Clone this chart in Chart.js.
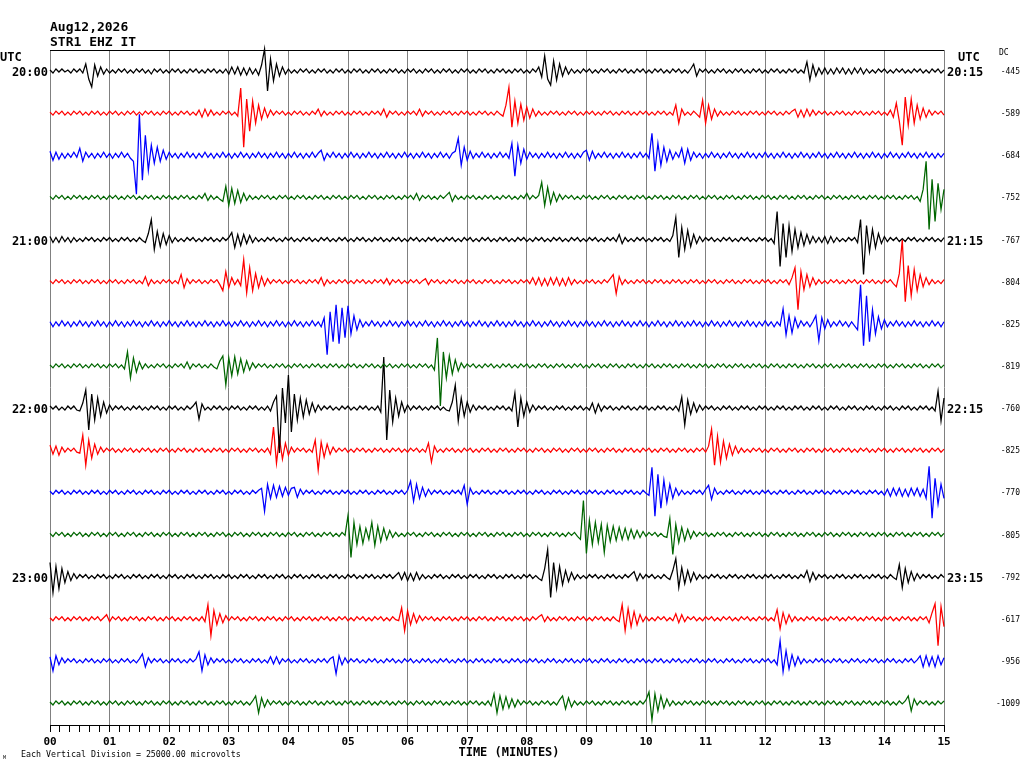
<!DOCTYPE html>
<html>
<head>
<meta charset="utf-8">
<title>STR1 EHZ IT helicorder</title>
<script src="https://cdn.jsdelivr.net/npm/chart.js@4.4.1/dist/chart.umd.min.js"></script>
<style>
  html, body { margin: 0; padding: 0; background: #fff; }
  canvas { display: block; }
</style>
</head>
<body>
<canvas id="heli" width="1024" height="768"></canvas>
<script>
// One array per 15 minute line, one value every 0.05 min (20 per row = 1 minute).
// Amplitudes, positive = up.
const tr2000 = [
  1,-2,2,-1,2,-1,1,-2,2,-1,2,-2,7,-8,-16,6,-5,4,-3,2,
  -2,1,-2,2,-1,2,-2,1,-2,2,-1,2,-2,1,-3,2,-1,2,-2,1,
  -2,2,-1,2,-2,1,-2,2,-1,2,-2,1,-2,2,-1,2,-2,1,-2,2,
  -3,4,-3,4,-4,3,-4,3,-3,2,-4,6,22,-20,12,-10,7,-5,4,-3,
  2,-2,1,-2,2,-1,2,-2,1,-2,2,-1,2,-2,1,-2,2,-1,2,-2,
  1,-2,2,-1,2,-2,1,-2,2,-1,2,-2,1,-2,2,-1,2,-2,1,-2,
  2,-1,2,-2,1,-2,2,-1,2,-2,1,-2,2,-1,2,-2,1,-2,2,-1,
  2,-2,1,-2,2,-1,2,-2,1,-2,2,-1,2,-2,1,-2,2,-1,2,-2,
  1,-2,2,-1,4,-6,15,-8,-14,10,-9,7,-5,4,-3,2,-2,1,-2,2,
  -1,2,-2,1,-2,2,-1,2,-2,1,-2,2,-1,2,-2,1,-2,2,-1,2,
  -2,1,-2,2,-1,2,-2,1,-2,2,-1,2,-2,1,-2,2,7,-5,2,-1,
  2,-2,1,-2,2,-1,2,-2,1,-2,2,-1,2,-2,1,-2,2,-1,2,-2,
  1,-2,2,-1,2,-2,1,-2,2,-1,2,-2,1,-2,9,-9,6,-5,3,-3,
  3,-3,2,-3,3,-2,3,-3,2,-3,3,-2,3,-3,2,-2,1,-2,2,-1,
  2,-2,1,-2,2,-1,2,-2,1,-2,2,-1,2,-2,1,-2,2,-1,2,-2,
  1]
const tr2015 = [
  1,-2,2,-1,2,-2,1,-2,2,-1,2,-2,1,-2,2,-1,2,-2,1,-2,
  2,-1,2,-2,1,-2,2,-1,2,-2,1,-2,2,-1,2,-2,1,-2,2,-1,
  2,-2,1,-2,2,-1,2,-2,1,-2,3,-4,4,-3,3,-2,1,-2,2,-1,
  2,-2,1,-3,25,-34,14,-18,12,-10,8,-6,5,-4,3,-2,2,-1,2,-2,
  1,-2,2,-1,2,-2,1,-2,2,-1,4,-3,2,-2,1,-2,2,-1,2,-2,
  1,-2,2,-1,2,-2,1,-2,2,-1,2,-2,4,-4,2,-1,2,-2,1,-2,
  2,-1,2,-2,4,-3,2,-1,2,-2,1,-2,2,-1,2,-2,1,-2,2,-1,
  2,-2,1,-2,2,-1,2,-2,1,-2,2,-1,-3,8,26,-14,12,-10,9,-7,
  6,-5,4,-3,2,-2,1,-2,2,-1,2,-2,1,-2,2,-1,2,-2,1,-2,
  2,-1,2,-2,1,-2,2,-1,2,-2,1,-2,2,-1,2,-2,1,-2,2,-1,
  2,-2,1,-2,2,-1,2,-2,1,-2,8,-10,4,-2,1,-2,2,-1,-4,13,
  -10,8,-6,4,-3,2,-2,1,-2,2,-1,2,-2,1,-2,2,-1,2,-2,1,
  -2,2,-1,2,-2,1,-2,2,-1,2,4,-4,3,-4,4,-3,3,-2,2,-1,
  2,-2,1,-2,2,-1,2,-2,1,-2,2,-1,2,-2,1,-2,2,-1,2,-2,
  1,-2,3,-4,10,-8,-32,16,-12,14,-10,8,-6,5,-4,3,-2,2,-1,2,
  -2]
const tr2030 = [
  4,-5,3,-4,2,-3,2,-2,3,-2,7,-6,3,-2,2,-3,2,-2,3,-2,
  2,-3,2,-2,3,-2,2,-3,-6,-39,41,-25,20,-15,10,-8,8,-6,5,-4,
  3,-2,2,-3,2,-2,3,-2,2,-3,2,-2,3,-2,2,-3,2,-2,3,-2,
  2,-3,2,-2,3,-2,2,-3,2,-2,3,-2,2,-3,2,-2,3,-2,2,-3,
  2,-2,3,-2,2,-3,2,-2,3,-2,2,5,-5,2,-2,3,-2,2,-3,2,
  -2,3,-2,2,-3,2,-2,3,-2,2,-3,2,-2,3,-2,2,-3,2,-2,3,
  -2,2,-3,2,-2,3,-2,2,-3,2,-2,3,-2,2,-3,2,4,17,-10,8,
  -5,4,-3,2,-2,3,-2,2,-3,2,-2,3,-2,2,-3,12,-21,10,-8,6,
  -4,3,-2,2,-3,2,-2,3,-2,2,-3,2,-2,3,-2,2,-3,2,-2,3,
  5,-5,4,-3,2,-2,3,-2,2,-3,2,-2,3,-2,2,-3,2,-2,3,-2,
  2,-3,22,-16,12,-10,8,-6,5,-4,3,-2,7,-8,6,-5,3,-2,2,-3,
  2,-2,3,-2,2,-3,2,-2,3,-2,2,-3,2,-2,3,-2,2,-3,2,-2,
  3,-2,2,-3,2,-2,3,-2,2,-3,2,-2,3,-2,2,-3,2,-2,3,-2,
  2,-3,2,-2,3,-2,2,-3,2,-2,3,-2,2,-3,2,-2,3,-2,2,-3,
  2,-2,3,-2,2,-3,2,-2,3,-2,2,-3,2,-2,3,-2,2,-3,2,-2,
  2]
const tr2045 = [
  1,-2,2,-1,2,-2,1,-2,2,-1,2,-2,1,-2,2,-1,2,-2,1,-2,
  2,-1,2,-2,1,-2,2,-1,2,-2,1,-2,2,-1,2,-2,1,-2,2,-1,
  2,-2,1,-2,2,-1,2,-2,1,-2,2,-1,4,-3,2,-2,1,-2,-4,11,
  -8,9,-6,7,-5,4,-3,2,-2,1,-2,2,-1,2,-2,1,-2,2,-1,2,
  -2,1,-2,2,-1,2,-2,1,-2,2,-1,2,-2,1,-2,2,-1,2,-2,1,
  -2,2,-1,2,-2,1,-2,2,-1,2,-2,1,-2,2,-1,2,-2,1,-2,2,
  -1,2,-2,4,-3,2,-1,2,-2,1,-2,2,-1,2,5,-4,2,-2,1,-2,
  2,-1,2,-2,1,-2,2,-1,2,-2,1,-2,2,-1,2,-2,1,-2,2,-1,
  4,-2,2,-1,2,15,-8,10,-6,5,-4,3,-2,2,-1,2,-2,1,-2,2,
  -1,2,-2,1,-2,2,-1,2,-2,1,-2,2,-1,2,-2,1,-2,2,-1,2,
  -2,1,-2,2,-1,2,-2,1,-2,2,-1,2,-2,1,-2,2,-1,2,-2,1,
  -2,2,-1,2,-2,1,-2,2,-1,2,-2,1,-2,2,-1,2,-2,1,-2,2,
  -1,2,-2,1,-2,2,-1,2,-2,1,-2,2,-1,2,-2,1,-2,2,-1,2,
  -2,1,-2,2,-1,2,-2,1,-2,2,-1,2,-2,1,-2,2,-1,2,-2,1,
  -2,2,-1,2,-2,1,-2,2,-1,2,-2,1,-4,8,36,-32,18,-24,14,-12,
  8]
const tr2100 = [
  3,-3,2,-3,3,-2,2,-3,2,-2,1,-2,2,-1,2,-2,1,-2,2,-1,
  2,-2,1,-2,2,-1,2,-2,1,-2,2,-1,-3,6,20,-10,8,-7,6,-5,
  4,-3,2,-2,1,-2,2,-1,2,-2,1,-2,2,-1,2,-2,1,-2,2,-1,
  2,7,-8,5,-6,5,-4,4,-3,2,-2,1,-2,2,-1,2,-2,1,-2,2,
  -1,2,-2,1,-2,2,-1,2,-2,1,-2,2,-1,2,-2,1,-2,2,-1,2,
  -2,1,-2,2,-1,2,-2,1,-2,2,-1,2,-2,1,-2,2,-1,2,-2,1,
  -2,2,-1,2,-2,1,-2,2,-1,2,-2,1,-2,2,-1,2,-2,1,-2,2,
  -1,2,-2,1,-2,2,-1,2,-2,1,-2,2,-1,2,-2,1,-2,2,-1,2,
  -2,1,-2,2,-1,2,-2,1,-2,2,-1,2,-2,1,-2,2,-1,2,-2,1,
  -2,2,-1,2,-2,1,-2,2,-1,2,-2,5,-4,2,-2,1,-2,2,-1,2,
  -2,1,-2,2,-1,2,-2,1,-2,4,22,-18,12,-10,9,-7,5,-4,3,-2,
  2,-1,2,-2,1,-2,2,-1,2,-2,1,-2,2,-1,2,-2,1,-2,2,-1,
  2,-2,1,-4,28,-27,16,-18,14,-12,10,-8,7,-6,5,-4,3,-3,2,-3,
  3,-4,3,-3,2,-2,1,-2,2,-1,2,-3,20,-35,14,-12,10,-8,6,-4,
  3,-2,2,-1,2,-2,1,-2,2,-1,2,-2,1,-2,2,-1,2,-2,1,-2,
  2]
const tr2115 = [
  1,-2,2,-1,2,-2,1,-2,2,-1,2,-2,1,-2,2,-1,2,-2,1,-2,
  2,-1,2,-2,1,-2,2,-1,2,-2,1,-2,5,-4,2,-2,1,-2,2,-1,
  2,-2,1,-2,7,-6,3,-2,2,-1,2,-2,1,-2,2,-1,2,-3,-9,10,
  -6,4,-3,2,-4,22,-11,14,-9,8,-6,5,-4,3,-2,2,-1,2,-2,1,
  -2,2,-1,2,-2,1,-2,2,-1,2,-2,4,-4,2,-2,1,-2,2,-1,2,
  -2,1,-2,2,-1,2,-2,1,-2,2,-1,2,-2,3,-3,2,-1,2,-2,1,
  -2,2,-1,2,-2,1,3,-3,2,-1,2,-2,1,-2,2,-1,2,-2,1,-2,
  2,-1,2,-2,1,-2,2,-1,2,-2,1,-2,2,-1,2,-2,1,-2,2,-1,
  2,-2,4,-3,4,-4,3,-4,4,-3,4,-4,3,-4,4,-3,2,-2,1,-2,
  2,-1,2,-2,1,-2,2,-1,3,7,-12,5,-3,2,-2,1,-2,2,-1,2,
  -2,1,-2,2,-1,2,-2,1,-2,2,-1,2,-2,1,-2,2,-1,2,-2,1,
  -2,2,-1,2,-2,1,-2,2,-1,2,-2,1,-2,2,-1,2,-2,1,-2,2,
  -1,2,-2,1,-2,2,-1,2,-3,4,14,-28,10,-8,7,-5,4,-3,2,-2,
  1,-2,2,-1,2,-2,1,-2,2,-1,2,-2,1,-2,2,-1,2,-2,1,-2,
  2,-1,2,-2,-5,8,42,-20,16,-14,12,-9,7,-5,4,-3,2,-2,1,-2,
  2]
const tr2130 = [
  2,-3,2,-2,3,-2,2,-3,2,-2,3,-2,2,-3,2,-2,3,-2,2,-3,
  2,-2,3,-2,2,-3,2,-2,3,-2,2,-3,2,-2,3,-2,2,-3,2,-2,
  3,-2,2,-3,2,-2,3,-2,2,-3,2,-2,3,-2,2,-3,2,-2,3,-2,
  2,-3,2,-2,3,-2,2,-3,2,-2,3,-2,2,-3,2,-2,3,-2,2,-3,
  2,-2,3,-2,2,-3,2,-2,3,-2,2,-3,6,-31,12,-18,19,-20,16,-14,
  18,-10,8,-6,4,-3,2,-2,3,-2,2,-3,2,-2,3,-2,2,-3,2,-2,
  3,-2,2,-3,2,-2,3,-2,2,-3,2,-2,3,-2,2,-3,2,-2,3,-2,
  2,-3,2,-2,3,-2,2,-3,2,-2,3,-2,2,-3,2,-2,3,-2,2,-3,
  2,-2,3,-2,2,-3,2,-2,3,-2,2,-3,2,-2,3,-2,2,-3,2,-2,
  3,-2,2,-3,2,-2,3,-2,2,-3,2,-2,3,-2,2,-3,2,-2,3,-2,
  2,-3,2,-2,3,-2,2,-3,2,-2,3,-2,2,-3,2,-2,3,-2,2,-3,
  2,-2,3,-2,2,-3,2,-2,3,-2,2,-3,2,-2,3,-2,2,-3,2,-2,
  3,-2,2,-3,2,-2,15,-11,8,-9,6,-4,3,-2,2,-3,2,8,-17,6,
  -5,4,-3,2,-2,3,-2,2,-3,2,-2,-6,39,-22,28,-18,14,-10,7,-5,
  4,-3,2,-2,3,-2,2,-3,2,-2,3,-2,2,-3,2,-2,3,-2,2,-3,
  2]
const tr2145 = [
  1,-2,2,-1,2,-2,1,-2,2,-1,2,-2,1,-2,2,-1,2,-2,1,-2,
  2,-1,2,-2,1,-3,14,-12,8,-6,4,-3,2,-2,1,-2,2,-1,2,-2,
  1,-2,2,-1,2,-2,4,-3,2,-1,2,-2,1,-2,2,-1,-3,5,10,-19,
  8,-10,9,-8,7,-6,5,-4,3,-2,2,-1,2,-2,1,-2,2,-1,2,-2,
  1,-2,2,-1,2,-2,1,-2,2,-1,2,-2,1,-2,2,-1,2,-2,1,-2,
  2,-1,2,-2,1,-2,2,-1,2,-2,1,-2,2,-1,2,-2,1,-2,2,-1,
  2,-2,1,-2,2,-1,2,-2,1,-4,28,-40,14,-12,10,-8,6,-5,3,-2,
  2,-1,2,-2,1,-2,2,-1,2,-2,1,-2,2,-1,2,-2,1,-2,2,-1,
  2,-2,1,-2,2,-1,2,-2,1,-2,2,-1,2,-2,1,-2,2,-1,2,-2,
  1,-2,2,-1,2,-2,1,-2,2,-1,2,-2,1,-2,2,-1,2,-2,1,-2,
  2,-1,2,-2,1,-2,2,-1,2,-2,1,-2,2,-1,2,-2,1,-2,2,-1,
  2,-2,1,-2,2,-1,2,-2,1,-2,2,-1,2,-2,1,-2,2,-1,2,-2,
  1,-2,2,-1,2,-2,1,-2,2,-1,2,-2,1,-2,2,-1,2,-2,1,-2,
  2,-1,2,-2,1,-2,2,-1,2,-2,1,-2,2,-1,2,-2,1,-2,2,-1,
  2,-2,1,-2,2,-1,2,-2,1,-2,2,-1,2,-2,1,-2,2,-1,2,-2,
  1]
const tr2200 = [
  2,-1,2,-2,1,-2,2,-1,2,-2,-3,5,18,-22,14,-12,10,-8,6,-5,
  3,-2,2,-1,2,-2,1,-2,2,-1,2,-2,1,-2,2,-1,2,-2,1,-2,
  2,-1,2,-2,1,-2,2,-1,2,6,-11,4,-2,1,-2,2,-1,2,-2,1,
  -2,2,-1,2,-2,1,-2,2,-1,2,-2,1,-2,2,-3,6,12,-45,20,-15,
  33,-24,14,-12,10,-9,8,-6,5,-4,3,-2,2,-1,2,-2,1,-2,2,-1,
  2,-2,1,-2,2,-1,2,-2,1,-2,2,-4,51,-32,18,-14,10,-8,6,-4,
  3,-2,2,-1,2,-2,1,-2,2,-1,2,-2,1,-2,-3,6,23,-13,10,-8,
  6,-4,3,-2,2,-1,2,-2,1,-2,2,-1,2,-2,1,-3,15,-19,10,-8,
  6,-4,3,-2,2,-1,2,-2,1,-2,2,-1,2,-2,1,-2,2,-1,2,-2,
  1,-2,5,-5,4,-3,2,-1,2,-2,1,-2,2,-1,2,-2,1,-2,2,-1,
  2,-2,1,-2,2,-1,2,-2,1,-2,2,-3,11,-17,8,-6,5,-4,3,-2,
  2,-1,2,-2,1,-2,2,-1,2,-2,1,-2,2,-1,2,-2,1,-2,2,-1,
  2,-2,1,-2,2,-1,2,-2,1,-2,2,-1,2,-2,1,-2,2,-1,2,-2,
  1,-2,2,-1,2,-2,1,-2,2,-1,2,-2,1,-2,2,-1,2,-2,1,-2,
  2,-1,2,-2,1,-2,2,-1,2,-2,1,-2,2,-1,2,-2,1,-3,17,-13,
  10]
const tr2215 = [
  5,-4,4,-5,3,-2,2,-1,2,-2,-3,15,-15,10,-8,6,-4,3,-2,2,
  -1,2,-2,1,-2,2,-1,2,-2,1,-2,2,-1,2,-2,1,-2,2,-1,2,
  -2,1,-2,2,-1,2,-2,1,-2,2,-1,2,-2,1,-2,2,-1,2,-2,1,
  -2,2,-1,2,-2,1,-2,2,-1,2,-2,1,-2,2,-4,23,-13,12,-9,7,
  -5,3,-2,2,-1,2,-2,1,-2,10,-20,8,-7,6,-4,3,-2,2,-1,2,
  -2,1,-2,2,-1,2,-2,1,-2,2,-1,2,-2,1,-2,2,-1,2,-2,1,
  -2,2,-1,2,-2,1,-2,7,-12,4,-2,1,-2,2,-1,2,-2,1,-2,2,
  -1,2,-2,1,-2,2,-1,2,-2,1,-2,2,-1,2,-2,1,-2,2,-1,2,
  -2,1,-2,2,-1,2,-2,1,-2,2,-1,2,-2,1,-2,2,-1,2,-2,1,
  -2,2,-1,2,-2,1,-2,2,-1,2,-2,1,-2,2,-1,2,-2,1,-2,2,
  -1,2,-2,1,-2,2,-1,2,-2,1,-2,2,-1,2,-2,1,-2,2,-1,2,
  -2,4,21,-15,14,-12,9,-8,6,-5,4,-3,2,-2,1,-2,2,-1,2,-2,
  1,-2,2,-1,2,-2,1,-2,2,-1,2,-2,1,-2,2,-1,2,-2,1,-2,
  2,-1,2,-2,1,-2,2,-1,2,-2,1,-2,2,-1,2,-2,1,-2,2,-1,
  2,-2,1,-2,2,-1,2,-2,1,-2,2,-1,2,-2,1,-2,2,-1,2,-2,
  1]
const tr2230 = [
  1,-2,2,-1,2,-2,1,-2,2,-1,2,-2,1,-2,2,-1,2,-2,1,-2,
  2,-1,2,-2,1,-2,2,-1,2,-2,1,-2,2,-1,2,-2,1,-2,2,-1,
  2,-2,1,-2,2,-1,2,-2,1,-2,2,-1,2,-2,1,-2,2,-1,2,-2,
  1,-2,2,-1,2,-2,1,-2,2,-1,2,4,-19,8,-6,7,-5,6,-4,5,
  -3,4,5,-5,3,-2,2,-1,2,-2,1,-2,2,-1,2,-2,1,-2,2,-1,
  2,-2,1,-2,2,-1,2,-2,1,-2,2,-1,2,-2,1,-2,2,-1,2,-2,
  2,11,-9,8,-6,5,-4,3,-2,2,-1,2,-2,1,-2,2,-1,2,-2,7,
  -12,4,-2,1,-2,2,-1,2,-2,1,-2,2,-1,2,-2,1,-2,2,-1,2,
  -2,1,-2,2,-1,2,-2,1,-2,2,-1,2,-2,1,-2,2,-1,2,-2,1,
  -2,2,-1,2,-2,1,-2,2,-1,2,-2,1,-2,2,-1,2,-2,1,-2,2,
  -1,-3,25,-24,18,-16,12,-10,8,-6,4,-3,2,-2,1,-2,2,-1,2,-2,
  3,7,-7,4,-2,1,-2,2,-1,2,-2,1,-2,2,-1,2,-2,1,-2,2,
  -1,2,-2,1,-2,2,-1,2,-2,1,-2,2,-1,2,-2,1,-2,2,-1,2,
  -2,1,-2,2,-1,2,-2,1,-2,2,-1,2,-2,1,-2,2,-1,2,-2,1,
  -3,3,-4,4,-3,4,-4,3,-4,4,-3,4,-4,3,-6,26,-26,14,-12,8,
  -6]
const tr2245 = [
  1,-2,2,-1,2,-2,1,-2,2,-1,2,-2,1,-2,2,-1,2,-2,1,-2,
  2,-1,2,-2,1,-2,2,-1,2,-2,1,-2,2,-1,2,-2,1,-2,2,-1,
  2,-2,1,-2,2,-1,2,-2,1,-2,2,-1,2,-2,1,-2,2,-1,2,-2,
  1,-2,2,-1,2,-2,1,-2,2,-1,2,-2,1,-2,2,-1,2,-2,1,-2,
  2,-1,2,-2,1,-2,2,-1,2,-2,1,-2,2,-1,2,-2,1,-2,2,-1,
  19,-23,12,-10,8,-9,6,-5,12,-11,8,-7,6,-5,4,-3,2,-2,1,-2,
  2,-1,2,-2,1,-2,2,-1,2,-2,1,-2,2,-1,2,-2,1,-2,2,-1,
  2,-2,1,-2,2,-1,2,-2,1,-2,2,-1,2,-2,1,-2,2,-1,2,-2,
  1,-2,2,-1,2,-2,1,-2,2,-1,2,-2,1,-2,2,-1,2,-2,-5,34,
  -19,14,-10,12,-8,10,-18,9,-7,8,-6,7,-5,6,-5,5,-4,4,-3,3,
  -2,2,-1,2,-2,1,-2,-3,16,-20,10,-8,7,-6,5,-4,3,-2,2,-1,
  2,-2,1,-2,2,-1,2,-2,1,-2,2,-1,2,-2,1,-2,2,-1,2,-2,
  1,-2,2,-1,2,-2,1,-2,2,-1,2,-2,1,-2,2,-1,2,-2,1,-2,
  2,-1,2,-2,1,-2,2,-1,2,-2,1,-2,2,-1,2,-2,1,-2,2,-1,
  2,-2,1,-2,2,-1,2,-2,1,-2,2,-1,2,-2,1,-2,2,-1,2,-2,
  1]
const tr2300 = [
  14,-16,10,-12,8,-6,5,-4,3,-2,2,-1,2,-2,1,-2,2,-1,2,-2,
  1,-2,2,-1,2,-2,1,-2,2,-1,2,-2,1,-2,2,-1,2,-2,1,-2,
  2,-1,2,-2,1,-2,2,-1,2,-2,1,-2,2,-1,2,-2,1,-2,2,-1,
  2,-2,1,-2,2,-1,2,-2,1,-2,2,-1,2,-2,1,-2,2,-1,2,-2,
  1,-2,2,-1,2,-2,1,-2,2,-1,2,-2,1,-2,2,-1,2,-2,1,-2,
  2,-1,2,-2,1,-2,2,-1,2,-2,1,-2,2,-1,2,-2,1,4,-3,4,
  -4,3,-4,4,-3,2,-2,1,-2,2,-1,2,-2,1,-2,2,-1,2,-2,1,
  -2,2,-1,2,-2,1,-2,2,-1,2,-2,1,-2,2,-1,2,-2,1,-2,2,
  -1,2,-2,1,-2,-4,8,27,-21,14,-12,10,-8,6,-5,4,-3,2,-2,1,
  -2,2,-1,2,-2,1,-2,2,-1,2,-2,1,-2,2,-1,2,5,-4,3,-2,
  2,-1,2,-2,1,-2,2,-1,-3,6,18,-11,9,-7,6,-5,4,-3,2,-2,
  1,-2,2,-1,2,-2,1,-2,2,-1,2,-2,1,-2,2,-1,2,-2,1,-2,
  2,-1,2,-2,1,-2,2,-1,2,-2,1,-2,2,-1,6,-5,4,-3,2,-1,
  2,-2,1,-2,2,-1,2,-2,1,-2,2,-1,2,-2,1,-2,2,-1,2,-2,
  1,-2,2,-1,-3,12,-11,8,-6,5,-4,3,-2,2,-1,2,-2,1,-2,2,
  -1]
const tr2315 = [
  1,-2,2,-1,2,-2,1,-2,2,-1,2,-2,1,-2,2,-1,2,-2,1,4,
  -3,2,-1,2,-2,1,-2,2,-1,2,-2,1,-2,2,-1,2,-2,1,-2,2,
  -1,2,-2,1,-2,2,-1,2,-2,1,-2,2,-3,14,-17,8,-6,5,-4,3,
  -2,2,-1,2,-2,1,-2,2,-1,2,-2,1,-2,2,-1,2,-2,1,-2,2,
  -1,2,-2,1,-2,2,-1,2,-2,1,-2,2,-1,2,-2,1,-2,2,-1,2,
  -2,1,-2,2,-1,2,-2,1,-2,2,-1,2,-2,1,-2,2,-1,-2,11,-12,
  8,-6,5,-4,3,-2,2,-1,2,-2,1,-2,2,-1,2,-2,1,-2,2,-1,
  2,-2,1,-2,2,-1,2,-2,1,-2,2,-1,2,-2,1,-2,2,-1,2,-2,
  1,-2,2,-1,2,4,-3,2,-2,1,-2,2,-1,2,-2,1,-2,2,-1,2,
  -2,1,-2,2,-1,2,-2,1,-2,2,-1,-3,14,-12,10,-8,7,-6,4,-3,
  2,-2,1,-2,2,-1,2,-2,1,-2,5,-4,4,-3,2,-1,2,-2,1,-2,
  2,-1,2,-2,1,-2,2,-1,2,-2,1,-2,2,-1,2,-2,1,-2,2,-1,
  2,-2,1,-2,9,-10,6,-5,4,-3,2,-2,1,-2,2,-1,2,-2,1,-2,
  1,-2,2,-1,2,-2,1,-2,2,-1,2,-2,1,-2,2,-1,2,-2,1,-2,
  2,-1,2,-2,1,-2,2,-1,2,-2,1,-2,2,-1,2,-4,6,15,-27,12,
  -8]
const tr2330 = [
  4,-10,5,-4,3,-2,2,-1,2,-2,1,-2,2,-1,2,-2,1,-2,2,-1,
  2,-2,1,-2,2,-1,2,-2,1,-2,2,7,-6,3,-2,2,-1,2,-2,1,
  -2,2,-1,2,-2,1,-2,2,-1,2,9,-10,6,-4,3,-2,2,-1,2,-2,
  1,-2,2,-1,2,-2,1,-2,2,-1,2,-2,1,-2,4,-3,4,-3,2,-1,
  2,-2,1,-2,2,-1,2,-2,1,-2,2,-1,2,-2,2,4,-13,5,-4,3,
  -2,2,-1,2,-2,1,-2,2,-1,2,-2,1,-2,2,-1,2,-2,1,-2,2,
  -1,2,-2,1,-2,2,-1,2,-2,1,-2,2,-1,2,-2,1,-2,2,-1,2,
  -2,1,-2,2,-1,2,-2,1,-2,2,-1,2,-2,1,-2,2,-1,2,-2,1,
  -2,2,-1,2,-2,1,-2,2,-1,2,-2,1,-2,2,-1,2,-2,1,-2,2,
  -1,2,-2,1,-2,2,-1,2,-2,1,-2,2,-1,2,-2,1,-2,2,-1,2,
  -2,1,-2,2,-1,2,-2,1,-2,2,-1,2,-2,1,-2,2,-1,2,-2,1,
  -2,2,-1,2,-2,1,-2,2,-1,2,-2,1,-2,2,-1,2,-2,1,-2,2,
  -1,2,-2,1,-4,20,-11,10,-8,6,-5,4,-3,2,-2,1,-2,2,-1,2,
  -2,1,-2,2,-1,2,-2,1,-2,2,-1,2,-2,1,-2,2,-1,2,-2,1,
  -2,2,-1,2,-2,1,-2,2,-1,2,-2,1,5,-6,5,-5,4,-6,5,-4,
  3]
const tr2345 = [
  1,-2,2,-1,2,-2,1,-2,2,-1,2,-2,1,-2,2,-1,2,-2,1,-2,
  2,-1,2,-2,1,-2,2,-1,2,-2,1,-2,2,-1,2,-2,1,-2,2,-1,
  2,-2,1,-2,2,-1,2,-2,1,-2,2,-1,2,-2,1,-2,2,-1,2,-2,
  1,-2,2,-1,2,-2,1,-2,2,7,-10,5,-4,3,-2,2,-1,2,-2,1,
  -2,2,-1,2,-2,1,-2,2,-1,2,-2,1,-2,2,-1,2,-2,1,-2,2,
  -1,2,-2,1,-2,2,-1,2,-2,1,-2,2,-1,2,-2,1,-2,2,-1,2,
  -2,1,-2,2,-1,2,-2,1,-2,2,-1,2,-2,1,-2,2,-1,2,-2,1,
  -2,2,-1,2,-2,1,-2,2,-3,9,-10,7,-6,6,-5,4,-4,3,-2,2,
  -1,2,-2,1,-2,2,-1,2,-2,1,-2,3,7,-6,5,-4,2,-2,1,-2,
  2,-1,2,-2,1,-2,2,-1,2,-2,1,-2,2,-1,2,-2,1,-2,2,-1,
  3,11,-17,9,-8,7,-5,4,-3,2,-2,1,-2,2,-1,2,-2,1,-2,2,
  -1,2,-2,1,-2,2,-1,2,-2,1,-2,2,-1,2,-2,1,-2,2,-1,2,
  -2,1,-2,2,-1,2,-2,1,-2,2,-1,2,-2,1,-2,2,-1,2,-2,1,
  -2,2,-1,2,-2,1,-2,2,-1,2,-2,1,-2,2,-1,2,-2,1,-2,2,
  -1,2,-2,1,-2,2,-1,2,7,-8,4,-2,2,-1,2,-2,1,-2,2,-1,
  2]

const traces = [tr2000, tr2015, tr2030, tr2045, tr2100, tr2115, tr2130, tr2145,
                tr2200, tr2215, tr2230, tr2245, tr2300, tr2315, tr2330, tr2345]
const dcOffsets = [-445, -589, -684, -752, -767, -804, -825, -819,
                   -760, -825, -770, -805, -792, -617, -956, -1009]
const hourRows = [0, 4, 8, 12]
const startTimes = ['20:00', '21:00', '22:00', '23:00']
const endTimes = ['20:15', '21:15', '22:15', '23:15']
const minuteLabels = ['00','01','02','03','04','05','06','07','08','09','10','11','12','13','14','15']

const sampleStep = 0.05     // minutes between values
const firstLine = 21        // y units from top to line 0
const lineGap = 42.13
const colors = ['#000000', '#ff0000', '#0000ff', '#006600']
const mono = '"DejaVu Sans Mono", "Liberation Mono", monospace'

function lineY(i) {
    return firstLine + i * lineGap
}

let datasets = traces.map((vals, i) => ({
    data: vals.map((v, k) => ({ x: k * sampleStep, y: lineY(i) - v })),
    borderColor: colors[i % 4],
    borderWidth: 1.25,
    pointRadius: 0,
    tension: 0,
    clip: false
}))

let isMinute = v => Math.abs(v - Math.round(v)) < 1e-6

const heliLabels = {
    id: 'heliLabels',
    afterDraw(chart) {
        let ctx = chart.ctx
        let area = chart.chartArea
        let y = chart.scales.y
        ctx.save()
        ctx.strokeStyle = '#000'
        ctx.lineWidth = 1
        ctx.beginPath()
        ctx.moveTo(area.left, Math.round(area.top) + 0.5)
        ctx.lineTo(area.right, Math.round(area.top) + 0.5)
        ctx.stroke()

        ctx.fillStyle = '#000'
        ctx.textBaseline = 'alphabetic'
        ctx.textAlign = 'left'
        ctx.font = 'bold 13px ' + mono
        ctx.fillText('Aug12,2026', 50, 31)
        ctx.fillText('STR1 EHZ IT', 50, 46)

        ctx.font = 'bold 12px ' + mono
        ctx.fillText('UTC', 0, 61)
        ctx.fillText('UTC', 958, 61)
        ctx.textBaseline = 'middle'
        hourRows.forEach((row, j) => {
            let py = y.getPixelForValue(lineY(row)) + 2
            ctx.textAlign = 'right'
            ctx.fillText(startTimes[j], 48, py)
            ctx.textAlign = 'left'
            ctx.fillText(endTimes[j], 947, py)
        })

        ctx.font = '8px ' + mono
        ctx.textAlign = 'left'
        ctx.fillText('DC', 999, 53)
        ctx.textAlign = 'right'
        dcOffsets.forEach((dc, i) => {
            ctx.fillText(String(dc), 1020, y.getPixelForValue(lineY(i)) + 1)
        })

        ctx.textAlign = 'center'
        ctx.font = 'bold 12px ' + mono
        ctx.fillText('TIME (MINUTES)', 509, 753)
        ctx.textAlign = 'left'
        ctx.font = '8.3px ' + mono
        ctx.fillText('Each Vertical Division = 25000.00 microvolts', 21, 754.5)
        ctx.font = '5px ' + mono
        ctx.fillText('M', 3, 758)
        ctx.restore()
    }
}

new Chart(document.getElementById('heli'), {
    type: 'line',
    data: { datasets: datasets },
    options: {
        responsive: false,
        animation: false,
        devicePixelRatio: 1,
        layout: { padding: { left: 50, right: 80, top: 50, bottom: 0 } },
        plugins: { legend: { display: false }, tooltip: { enabled: false } },
        scales: {
            x: {
                type: 'linear',
                position: 'bottom',
                min: 0,
                max: 15,
                afterBuildTicks: s => {
                    let ticks = []
                    for (let k = 0; k <= 90; k++) ticks.push({ value: k / 6 })
                    s.ticks = ticks
                },
                afterFit: s => { s.height = 43 },
                grid: {
                    color: c => (c.tick && isMinute(c.tick.value)) ? '#808080' : 'rgba(0,0,0,0)',
                    tickColor: '#000',
                    tickLength: 7,
                    lineWidth: 1
                },
                border: { display: true, color: '#000', width: 1 },
                ticks: {
                    autoSkip: false,
                    maxRotation: 0,
                    padding: 4,
                    color: '#000',
                    font: { family: mono, size: 11, weight: 'bold' },
                    callback: v => isMinute(v) ? minuteLabels[Math.round(v)] : ''
                }
            },
            y: {
                type: 'linear',
                display: false,
                reverse: true,
                min: 0,
                max: 675
            }
        }
    },
    plugins: [heliLabels]
})
</script>
</body>
</html>
